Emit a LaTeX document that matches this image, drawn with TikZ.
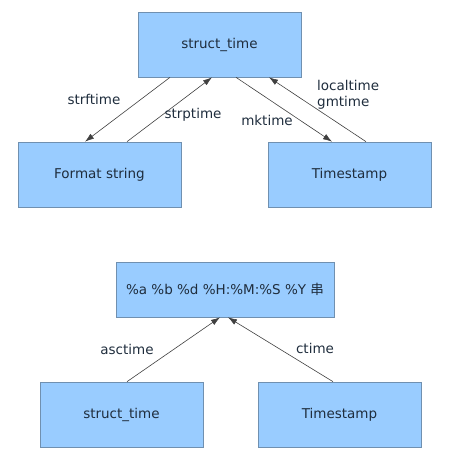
\documentclass[tikz,border=0pt]{standalone}
\usepackage{fontspec}
\setmainfont{DejaVu Sans}
\newfontfamily\cjk{Noto Sans CJK SC}
\usetikzlibrary{arrows.meta}
\definecolor{boxfill}{HTML}{99CCFF}
\definecolor{boxline}{HTML}{7090B0}
\definecolor{ink}{HTML}{1F2D3D}
\tikzset{
  box/.style={draw=boxline, fill=boxfill, line width=0.7pt, text=ink, minimum width=163pt, minimum height=65pt, inner sep=0pt},
  lbl/.style={text=ink, inner sep=0pt, align=left},
  conv/.style={draw=black!75, line width=0.6pt, -{Latex[length=9pt,width=6pt]}}
}
\begin{document}
\begin{tikzpicture}[x=1pt,y=-1pt,font=\fontsize{13.5}{16}\selectfont]
\useasboundingbox (0,0) rectangle (448,450);
% struct_time <-> format string / timestamp
\node[box] (st) at (219.5,44.5) {struct\_time};
\node[box] (fmt) at (99.5,174.5) {Format string};
\node[box] (ts) at (349.5,174.5) {Timestamp};
\draw[conv] ([xshift=-49.5pt]st.south) -- ([xshift=-14.5pt]fmt.north);
\draw[conv] ([xshift=27.5pt]fmt.north) -- ([xshift=-7.5pt]st.south);
\draw[conv] ([xshift=16.5pt]st.south) -- ([xshift=-17.5pt]ts.north);
\draw[conv] ([xshift=16.5pt]ts.north) -- ([xshift=49.5pt]st.south);
\node[lbl] (strf) at (94,99) {strftime};
\node[lbl] (strp) at (193,115) {strptime};
\node[lbl] (mk) at (267,120) {mktime};
\node[lbl, anchor=west] (loc) at (317,95) {localtime\\gmtime};
% fixed format string
\node[box, minimum width=218pt, minimum height=55pt] (fs) at (225,289.5) {\%a \%b \%d \%H:\%M:\%S \%Y {\cjk 串}};
\node[box] (bst) at (121.5,414.5) {struct\_time};
\node[box] (bts) at (339.5,414.5) {Timestamp};
\draw[conv] ([xshift=5.5pt]bst.north) -- ([xshift=-5pt]fs.south);
\draw[conv] ([xshift=-6.5pt]bts.north) -- ([xshift=3pt]fs.south);
\node[lbl] (asc) at (127,349) {asctime};
\node[lbl] (ct) at (315,348) {ctime};
\end{tikzpicture}
\end{document}
